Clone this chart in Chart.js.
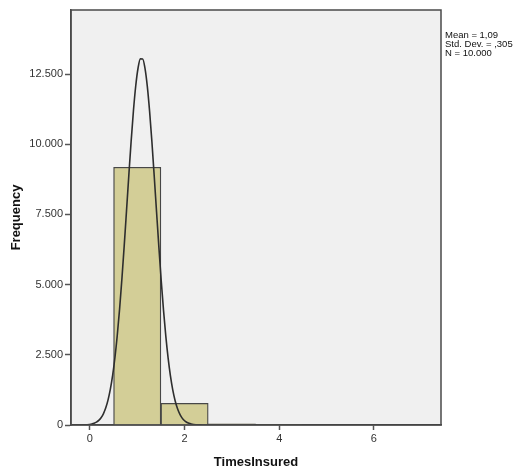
<!DOCTYPE html>
<html>
<head>
<meta charset="utf-8">
<script src="https://cdn.jsdelivr.net/npm/chart.js@4/dist/chart.umd.min.js"></script>
<style>
  html, body { margin: 0; padding: 0; background: #ffffff; }
  #wrap { position: relative; width: 522px; height: 470px; }
  #stats {
    position: absolute; left: 445px; top: 30px;
    font-family: "Liberation Sans", Arial, sans-serif; font-size: 9.5px;
    line-height: 9px; color: #111; white-space: nowrap;
  }
</style>
</head>
<body>
<div id="wrap">
  <canvas id="c" width="522" height="470"></canvas>
  <div id="stats">Mean = 1,09<br>Std. Dev. = ,305<br>N = 10.000</div>
</div>
<script>
// Histogram bins (centres) and their counts
const binCenters = [1, 2, 3, 4];
const binCounts = [9180, 770, 45, 5];

// Summary statistics shown beside the plot; the normal curve uses them
const mean = 1.09;
const stdDev = 0.305;
const total = 10000;
const binWidth = 1;

// Axis ticks
const xTicks = [0, 2, 4, 6];
const xTickLabels = ['0', '2', '4', '6'];
const yTicks = [0, 2500, 5000, 7500, 10000, 12500];
const yTickLabels = ['0', '2.500', '5.000', '7.500', '10.000', '12.500'];

const xMin = -0.4, xMax = 7.42, yMax = 14780;

// Normal density scaled to the histogram (count per bin)
const curve = [];
const steps = 160;
for (let i = 0; i <= steps; i++) {
  const x = xMin + (xMax - xMin) * i / steps;
  const z = (x - mean) / stdDev;
  curve.push({ x: x, y: total * binWidth / (stdDev * Math.sqrt(2 * Math.PI)) * Math.exp(-0.5 * z * z) });
}

const panel = {
  id: 'panel',
  beforeDraw(chart) {
    const a = chart.chartArea, ctx = chart.ctx;
    ctx.save();
    ctx.fillStyle = '#f0f0f0';
    ctx.fillRect(a.left, a.top, a.right - a.left, a.bottom - a.top);
    ctx.restore();
  },
  afterDraw(chart) {
    const a = chart.chartArea, ctx = chart.ctx;
    ctx.save();
    ctx.strokeStyle = '#4a4a4a';
    ctx.lineWidth = 1.5;
    ctx.strokeRect(a.left, a.top, a.right - a.left, a.bottom - a.top);
    ctx.restore();
  }
};

const font = { family: '"Liberation Sans", Arial, sans-serif', size: 11 };

new Chart(document.getElementById('c'), {
  type: 'bar',
  data: {
    datasets: [
      {
        type: 'line',
        data: curve,
        borderColor: '#2e2e2e',
        borderWidth: 1.6,
        pointRadius: 0,
        cubicInterpolationMode: 'monotone',
        order: 0
      },
      {
        type: 'bar',
        data: binCenters.map((c, i) => ({ x: c, y: binCounts[i] })),
        backgroundColor: '#d3ce97',
        borderColor: '#474747',
        borderWidth: 1.3,
        barPercentage: 1,
        categoryPercentage: 1,
        order: 1
      }
    ]
  },
  options: {
    responsive: false,
    animation: false,
    events: [],
    layout: { padding: { left: 0, right: 81, top: 10, bottom: 0 } },
    plugins: { legend: { display: false }, tooltip: { enabled: false } },
    scales: {
      x: {
        type: 'linear',
        offset: false,
        min: xMin, max: xMax,
        afterBuildTicks: s => { s.ticks = xTicks.map(v => ({ value: v })); },
        afterFit: s => { s.height = 45; },
        ticks: {
          font: font, color: '#333333', padding: 2, maxRotation: 0,
          callback: v => xTickLabels[xTicks.indexOf(v)]
        },
        grid: { display: true, offset: false, drawOnChartArea: false, tickLength: 5, tickColor: '#555555', tickWidth: 1.5 },
        border: { display: true, color: '#4a4a4a', width: 1.5 },
        title: {
          display: true, text: 'TimesInsured', color: '#111111',
          font: { family: '"Liberation Sans", Arial, sans-serif', size: 13, weight: 'bold' },
          padding: { top: 0, bottom: 0 }
        }
      },
      y: {
        type: 'linear',
        min: 0, max: yMax,
        afterBuildTicks: s => { s.ticks = yTicks.map(v => ({ value: v })); },
        afterFit: s => { s.width = 71; },
        ticks: {
          font: font, color: '#333333', padding: 2,
          callback: v => yTickLabels[yTicks.indexOf(v)]
        },
        grid: { display: true, drawOnChartArea: false, tickLength: 6, tickColor: '#555555', tickWidth: 1.5 },
        border: { display: true, color: '#4a4a4a', width: 1.5 },
        title: {
          display: true, text: 'Frequency', color: '#111111',
          font: { family: '"Liberation Sans", Arial, sans-serif', size: 13, weight: 'bold' },
          padding: { top: 9, bottom: 0 }
        }
      }
    }
  },
  plugins: [panel]
});
</script>
</body>
</html>
